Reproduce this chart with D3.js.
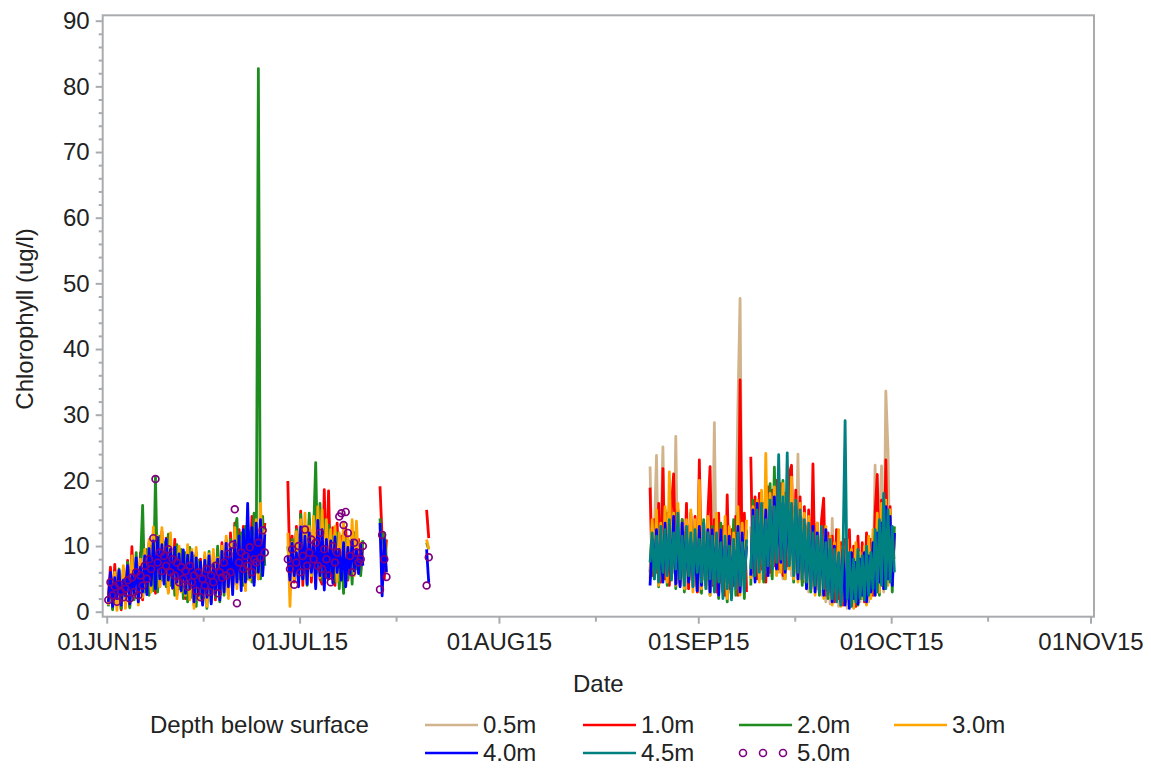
<!DOCTYPE html>
<html>
<head>
<meta charset="utf-8">
<script src="https://cdn.jsdelivr.net/npm/d3@7"></script>
<style>
  body { margin: 0; background: #fff; }
  svg text { font-family: "Liberation Sans", Arial, sans-serif; fill: #222; }
</style>
</head>
<body>
<svg id="chart"></svg>
<script>
// ---- data, one value every 8 hours ----
const depths = ['0.5m', '1.0m', '2.0m', '3.0m', '4.0m', '4.5m', '5.0m'];
const stepHours = 8;
const segStarts = ['2015-06-01T06:00Z', '2015-06-29T04:00Z', '2015-07-13T12:00Z', '2015-07-20T18:00Z', '2015-08-24T12:00Z'];

// 01JUN - 24JUN
const jun_10 = [2.5, 6.8, 0.5, 7.2, 1.5, 5.5, 0.3, 6.5, 1.8,
  7.8, 0.8, 9.9, 2.0, 7.5, 2.5, 9.0, 1.8, 8.8,
  3.2, 10.5, 4.5, 12.0, 2.8, 11.5, 3.8, 12.2, 5.2,
  11.2, 3.0, 10.0, 4.2, 11.0, 2.5, 9.2, 3.8, 8.5,
  2.0, 9.4, 2.8, 8.5, 1.0, 9.0, 2.0, 8.0, 1.5,
  8.2, 1.5, 7.8, 2.5, 8.8, 1.8, 9.5, 2.8, 10.5,
  3.5, 11.0, 2.5, 12.0, 3.8, 13.5, 4.2, 12.5, 5.0,
  13.0, 3.8, 12.0, 5.5, 14.5, 4.5, 13.2, 5.0, 12.0, 6.0, 13.5];
const jun_20 = [0.8, 5.5, 0.3, 6.0, 1.2, 6.5, 0.5, 5.8, 1.5,
  7.5, 0.6, 8.0, 1.8, 9.0, 2.0, 7.2, 16.2, 3.0,
  9.5, 2.5, 10.0, 3.2, 20.5, 3.0, 11.5, 4.8, 10.5,
  3.8, 11.8, 4.0, 9.0, 2.5, 10.2, 3.5, 9.5, 2.0,
  9.0, 1.5, 9.8, 2.2, 8.5, 0.8, 7.8, 2.8, 1.2,
  8.5, 0.5, 9.2, 1.5, 8.0, 2.2, 10.0, 1.5, 9.5,
  2.5, 10.5, 3.0, 11.0, 4.0, 12.5, 14.2, 5.0, 12.0,
  4.0, 13.0, 5.0, 12.2, 4.5, 15.0, 6.0, 82.7, 5.0, 14.5, 7.0];
const jun_30 = [1.0, 5.0, 1.8, 6.0, 0.2, 5.5, 1.2, 7.0, 0.5,
  6.2, 1.5, 8.5, 2.5, 7.0, 1.0, 8.0, 2.2, 9.5,
  3.5, 11.0, 3.0, 12.9, 4.5, 11.5, 3.8, 12.8, 4.5,
  10.5, 2.8, 12.0, 3.5, 9.2, 2.0, 10.0, 3.0, 7.5,
  2.5, 10.2, 1.8, 9.5, 0.5, 9.8, 1.8, 7.2, 2.5,
  9.0, 0.8, 8.8, 1.5, 9.5, 2.8, 8.2, 2.0, 10.0,
  3.0, 11.5, 2.0, 10.5, 4.2, 12.8, 3.5, 11.0, 4.8,
  12.0, 3.2, 13.5, 4.8, 11.5, 5.5, 14.0, 5.0, 16.5, 6.5, 12.5];
const jun_40 = [1.5, 6.0, 0.8, 5.2, 2.0, 6.3, 1.0, 4.8, 2.4,
  7.0, 1.2, 5.5, 2.8, 8.2, 1.5, 6.8, 3.0, 8.5,
  2.6, 9.6, 4.0, 10.8, 3.5, 11.3, 5.0, 10.2, 4.2,
  11.0, 4.8, 9.5, 3.6, 9.8, 4.5, 8.8, 3.2, 9.4,
  2.8, 8.6, 3.5, 9.0, 1.5, 8.2, 2.5, 7.6, 1.0,
  7.8, 2.2, 8.5, 1.2, 7.2, 2.8, 8.0, 1.8, 9.2,
  3.0, 10.4, 3.8, 9.6, 2.6, 10.8, 4.5, 11.5, 3.2,
  12.5, 4.5, 16.5, 5.2, 12.8, 4.0, 13.5, 6.0, 14.0, 5.5, 11.8];
const jun_50 = [1.8, 4.5, 2.5, 3.8, 1.5, 4.2, 3.0, 2.2, 3.5,
  4.8, 2.0, 5.2, 3.0, 6.0, 2.5, 5.5, 4.0, 7.0,
  5.0, 8.0, 6.5, 11.2, 20.2, 7.5, 9.0, 6.2, 8.5,
  7.0, 9.5, 6.0, 8.0, 5.5, 7.5, 4.5, 6.8, 5.0,
  6.2, 3.8, 7.0, 4.5, 5.5, 3.2, 6.0, 2.2, 5.0,
  4.0, 6.5, 3.0, 5.5, 4.5, 7.0, 2.8, 6.0, 5.2,
  7.5, 5.5, 8.8, 6.0, 10.2, 15.6, 1.3, 7.5, 9.0,
  6.5, 8.5, 7.0, 9.8, 6.0, 8.0, 7.5, 10.5, 8.2, 12.4, 9.0];

// 29JUN - 10JUL
const jul_10 = [19.9, 6.0, 11.5, 4.5, 13.0, 5.2, 15.3, 4.0, 12.5, 5.8, 14.0, 4.5,
  13.5, 6.5, 12.0, 5.0, 4.2, 18.6, 5.2, 18.4, 5.5, 12.8, 4.0, 13.5,
  5.2, 11.5, 6.0, 12.8, 4.8, 10.5, 5.5, 12.0, 7.0, 11.0, 6.2, 9.8];
const jul_20 = [10.0, 5.5, 11.0, 6.2, 12.5, 4.5, 14.8, 5.0, 13.0, 4.0, 15.0, 5.5,
  12.0, 22.7, 6.0, 16.5, 4.8, 14.0, 5.5, 13.2, 6.0, 11.5, 4.5, 12.0,
  3.5, 10.5, 2.8, 11.0, 5.0, 10.8, 4.2, 12.0, 6.5, 10.5, 5.5, 10.9];
const jul_30 = [12.0, 0.8, 10.5, 5.0, 12.2, 4.5, 14.0, 6.0, 15.0, 4.8, 13.0, 5.5,
  14.5, 4.0, 16.0, 5.2, 15.5, 4.5, 14.0, 6.0, 12.5, 5.0, 13.0, 4.6,
  12.0, 5.8, 13.5, 4.2, 11.5, 6.2, 14.0, 5.5, 13.8, 6.8, 10.5, 7.2];
const jul_40 = [8.5, 4.8, 10.4, 5.5, 9.0, 3.8, 12.9, 5.0, 11.5, 4.2, 12.0, 6.0,
  10.5, 3.5, 13.9, 5.5, 12.5, 3.3, 11.0, 5.0, 10.8, 4.4, 11.4, 6.0,
  9.5, 4.8, 10.5, 3.8, 9.8, 5.8, 10.9, 6.2, 9.5, 5.8, 10.2, 7.0];
const jul_50 = [8.0, 6.5, 9.5, 4.1, 7.5, 10.0, 6.0, 8.5, 12.5, 7.0, 9.0, 11.0,
  8.0, 10.5, 7.0, 12.0, 6.5, 9.5, 8.0, 5.5, 4.5, 10.0, 7.5, 9.0,
  14.5, 15.0, 13.2, 15.2, 12.0, 8.5, 6.0, 10.5, 9.0, 7.5, 8.0, 10.0];

// 13JUL and 20JUL short records
const jul13_10 = [19.1, 11.2, 5.0, 11.0];
const jul13_20 = [14.2, 9.0, 12.0, 8.0];
const jul13_30 = [12.0, 7.0, 10.5, 6.0];
const jul13_40 = [13.5, 2.4, 11.0, 6.0];
const jul13_50 = [3.4, 11.7, 8.0, 5.3];
const jul20_10 = [15.5, 11.2];
const jul20_20 = [10.5, 9.5];
const jul20_30 = [11.0, 9.5];
const jul20_40 = [9.5, 4.4];
const jul20_50 = [4.0, 8.3];

// 24AUG - 01OCT
const sep_05 = [22.1, 6.0, 12.0, 23.8, 5.5, 11.0, 25.1, 5.0, 12.5, 4.5,
  12.0, 6.0, 26.7, 4.5, 11.5, 5.5, 12.0, 3.5, 13.0, 5.0,
  11.0, 4.0, 12.5, 3.0, 13.0, 5.0, 11.0, 3.5, 12.0, 4.0,
  28.8, 3.0, 11.5, 4.5, 10.0, 2.5, 12.5, 3.0, 11.0, 4.0,
  12.0, 31.5, 47.7, 5.0, 11.0, 3.5, null, 13.0, 5.5, 14.0,
  6.0, 15.0, 5.0, 14.5, 6.5, 15.5, 5.5, 15.0, 7.0, 16.0,
  6.0, 16.5, 5.0, 15.5, 6.5, 16.0, 5.5, 15.0, 6.0, 24.0,
  5.0, 14.0, 4.5, 13.0, 3.0, 12.0, 4.0, 11.5, 3.5, 10.5,
  2.5, 11.0, 1.5, 10.0, 1.2, 14.2, 2.0, 9.0, 0.8, 9.5,
  1.5, 8.5, 0.5, 9.5, 1.0, 8.0, 2.0, 8.5, 1.5, 9.0,
  2.5, 9.0, 1.5, 10.0, 3.0, 22.3, 4.0, 13.0, 22.2, 3.0,
  33.6, 24.6, 5.0, 12.0, 8.0];
const sep_10 = [18.9, 5.5, 14.0, 6.0, 16.5, 4.5, 21.8, 5.0, 15.0, 4.0,
  16.0, 21.0, 5.5, 15.5, 4.0, 14.0, 5.0, 16.5, 3.5, 15.0,
  4.5, 14.5, 3.0, 23.1, 5.0, 13.5, 4.0, 15.0, 22.1, 4.0,
  14.0, 3.0, 15.0, 4.5, 13.0, 2.5, 17.8, 3.5, 12.5, 4.0,
  14.5, 2.5, 35.3, 5.5, 15.0, 3.0, null, 23.6, 6.0, 17.5,
  5.0, 18.0, 6.5, 16.5, 4.5, 19.0, 6.0, 18.5, 7.0, 20.0,
  6.5, 19.5, 5.5, 18.0, 7.0, 21.0, 22.3, 6.0, 18.5, 5.5,
  17.5, 4.5, 16.0, 5.0, 15.5, 3.5, 22.5, 4.0, 13.5, 3.0,
  14.0, 17.3, 2.5, 12.0, 3.0, 11.5, 1.5, 12.5, 2.0, 10.5,
  1.0, 11.0, 2.5, 12.5, 1.5, 10.0, 0.8, 11.5, 2.0, 10.5,
  1.5, 12.0, 3.0, 11.0, 2.5, 15.0, 20.9, 4.0, 17.0, 3.5,
  23.1, 5.0, 16.0, 4.5, 12.0];
const sep_20 = [6.0, 13.5, 5.0, 14.5, 3.8, 12.0, 5.5, 15.5, 4.0, 13.0,
  6.0, 15.0, 3.5, 13.5, 5.0, 14.0, 3.0, 12.5, 6.5, 14.5,
  4.0, 13.0, 5.5, 12.0, 2.8, 14.0, 4.5, 11.5, 2.5, 13.0,
  3.5, 12.5, 2.0, 13.5, 4.0, 11.0, 1.5, 12.0, 3.0, 14.0,
  2.5, 15.0, 4.5, 11.5, 2.0, 12.5, null, 4.0, 17.0, 5.0,
  16.0, 5.5, 18.0, 4.5, 15.0, 6.0, 19.5, 5.0, 22.0, 7.0,
  18.5, 6.5, 20.0, 5.0, 18.0, 7.5, 17.0, 4.5, 16.5, 6.0,
  15.0, 4.0, 14.5, 5.0, 13.0, 3.0, 12.5, 4.5, 11.0, 2.5,
  12.0, 3.0, 11.5, 2.0, 10.5, 1.5, 9.0, 2.5, 10.0, 1.0,
  8.5, 1.5, 9.5, 0.8, 8.0, 2.0, 9.0, 1.0, 7.5, 2.0,
  8.5, 1.2, 10.0, 2.5, 11.0, 3.0, 13.5, 2.5, 15.5, 4.0,
  14.0, 4.5, 15.0, 3.0, 13.0];
const sep_30 = [5.0, 14.0, 6.0, 15.5, 4.0, 13.5, 5.0, 16.0, 4.5, 21.3,
  5.5, 15.0, 4.0, 16.5, 6.0, 13.5, 3.5, 14.0, 5.0, 15.5,
  3.0, 14.0, 4.5, 20.0, 3.5, 13.0, 5.0, 14.5, 2.5, 12.5,
  4.0, 15.0, 2.5, 12.5, 3.5, 14.5, 2.0, 13.0, 3.0, 12.0,
  3.5, 16.0, 2.5, 13.5, 4.0, 14.0, null, 5.0, 16.0, 6.0,
  17.0, 4.5, 18.5, 5.5, 24.1, 6.0, 18.0, 7.0, 19.0, 5.5,
  17.5, 6.0, 19.5, 5.0, 18.0, 6.5, 20.5, 5.0, 17.0, 4.5,
  16.5, 5.0, 15.0, 3.5, 14.5, 4.0, 12.5, 2.5, 13.5, 3.5,
  12.0, 2.0, 13.0, 2.5, 11.5, 1.0, 10.5, 2.0, 12.5, 0.8,
  10.0, 1.5, 11.0, 1.0, 9.5, 0.5, 10.5, 1.5, 9.0, 2.0,
  10.0, 1.0, 11.5, 2.0, 12.5, 2.5, 15.0, 3.0, 16.5, 3.5,
  17.0, 4.0, 15.5, 5.0, 11.0];
const sep_40 = [4.0, 11.0, 6.5, 12.5, 5.0, 10.5, 4.5, 13.5, 6.0, 12.0,
  5.5, 14.5, 4.2, 12.5, 3.8, 13.5, 5.0, 12.0, 4.5, 11.0,
  5.5, 10.5, 3.2, 13.0, 4.0, 11.0, 5.5, 12.5, 3.0, 12.5,
  4.5, 11.0, 2.5, 12.5, 3.0, 10.0, 4.5, 11.5, 2.5, 9.5,
  4.0, 13.0, 3.0, 12.0, 5.0, 10.0, null, 5.5, 15.5, 4.5,
  16.5, 7.0, 14.5, 6.0, 15.5, 5.5, 16.0, 8.0, 17.5, 6.5,
  18.0, 7.5, 16.5, 6.0, 17.5, 8.0, 15.0, 6.5, 16.0, 5.0,
  14.5, 6.0, 13.0, 3.5, 12.5, 4.5, 13.0, 3.0, 12.0, 4.0,
  11.5, 2.5, 12.5, 3.0, 9.5, 1.5, 10.0, 2.0, 8.5, 1.5,
  9.5, 1.0, 8.0, 0.5, 9.0, 2.0, 7.5, 1.2, 8.0, 2.5,
  9.0, 1.5, 8.5, 3.0, 10.5, 2.5, 12.0, 4.5, 13.5, 3.5,
  16.0, 5.0, 14.5, 4.0, 12.0];
const sep_45 = [7.5, 12.0, 5.0, 11.5, 4.5, 13.0, 6.0, 12.5, 5.5, 14.0,
  4.8, 12.0, 6.5, 15.0, 5.0, 11.5, 4.0, 13.0, 5.5, 12.0,
  3.8, 12.5, 6.0, 11.0, 4.5, 13.5, 3.5, 12.0, 5.0, 11.5,
  3.0, 12.0, 4.5, 10.5, 2.0, 11.5, 3.5, 10.0, 1.8, 11.0,
  3.5, 12.0, 4.0, 10.5, 3.0, 11.0, null, 6.5, 14.5, 5.5,
  15.5, 6.0, 16.5, 5.0, 14.0, 7.0, 17.0, 6.5, 16.0, 7.5,
  23.9, 8.0, 17.5, 6.5, 24.2, 7.0, 16.5, 5.5, 17.0, 6.0,
  15.5, 5.0, 14.0, 4.5, 13.5, 3.5, 12.0, 4.0, 11.5, 3.0,
  13.0, 3.5, 10.5, 2.5, 11.0, 2.0, 9.5, 1.5, 9.0, 1.0,
  8.5, 29.1, 2.0, 9.0, 0.8, 8.0, 1.5, 9.5, 2.0, 8.5,
  1.8, 10.0, 2.5, 9.0, 3.5, 12.5, 3.0, 14.0, 4.0, 18.0,
  3.5, 15.5, 4.5, 13.0, 6.0];

const yTicks = [0, 10, 20, 30, 40, 50, 60, 70, 80, 90];
const xTickDates = ['2015-06-01', '2015-07-01', '2015-08-01', '2015-09-01', '2015-10-01', '2015-11-01'];
const xMinorDates = ['2015-06-16', '2015-07-16', '2015-08-16', '2015-09-16', '2015-10-16'];

// which arrays belong to which record period
const segments = [
  {start: segStarts[0], values: {'1.0m': jun_10, '2.0m': jun_20, '3.0m': jun_30, '4.0m': jun_40, '5.0m': jun_50}},
  {start: segStarts[1], values: {'1.0m': jul_10, '2.0m': jul_20, '3.0m': jul_30, '4.0m': jul_40, '5.0m': jul_50}},
  {start: segStarts[2], values: {'1.0m': jul13_10, '2.0m': jul13_20, '3.0m': jul13_30, '4.0m': jul13_40, '5.0m': jul13_50}},
  {start: segStarts[3], values: {'1.0m': jul20_10, '2.0m': jul20_20, '3.0m': jul20_30, '4.0m': jul20_40, '5.0m': jul20_50}},
  {start: segStarts[4], values: {'0.5m': sep_05, '1.0m': sep_10, '2.0m': sep_20, '3.0m': sep_30, '4.0m': sep_40, '4.5m': sep_45}}
];

// ---- layout and styles ----
const config = {
  width: 1151,
  height: 768,
  plot: {left: 102.7, right: 1094, top: 15.3, bottom: 616.7},
  colors: {'0.5m': '#D2B48C', '1.0m': '#FF0000', '2.0m': '#1E8C1E', '3.0m': '#FFA500',
           '4.0m': '#0000FF', '4.5m': '#008080', '5.0m': '#800080'},
  frameColor: '#A9ACAF',
  fontSize: 24,
  legendFontSize: 24,
  lineWidth: 2.8
};

const svg = d3.select('#chart')
    .attr('width', config.width)
    .attr('height', config.height);

const p = config.plot;
const x = d3.scaleUtc()
    .domain([new Date('2015-05-31T09:00Z'), new Date('2015-11-01T13:00Z')])
    .range([p.left, p.right]);
const y = d3.scaleLinear()
    .domain([-0.76, 90.82])
    .range([p.bottom, p.top]);

// turn each segment into {date, v} rows per depth
const series = depths.map(depth => ({
  depth,
  parts: segments.filter(s => s.values[depth]).map(s => {
    const t0 = new Date(s.start).getTime();
    return s.values[depth].map((v, i) => ({date: new Date(t0 + i * stepHours * 3600e3), v}));
  })
}));

// ---- data marks ----
const line = d3.line()
    .defined(d => d.v != null)
    .x(d => x(d.date))
    .y(d => y(d.v));

const marks = svg.append('g');
series.filter(s => s.depth !== '5.0m').forEach(s => {
  marks.selectAll(null)
    .data(s.parts)
    .join('path')
      .attr('d', line)
      .attr('fill', 'none')
      .attr('stroke', config.colors[s.depth])
      .attr('stroke-width', config.lineWidth)
      .attr('stroke-linejoin', 'round');
});

// 5.0m is drawn as open circles only
const circleData = series.find(s => s.depth === '5.0m').parts.flat();
marks.selectAll('.m50')
  .data(circleData)
  .join('circle')
    .attr('class', 'm50')
    .attr('cx', d => x(d.date))
    .attr('cy', d => y(d.v))
    .attr('r', 3.4)
    .attr('fill', 'none')
    .attr('stroke', config.colors['5.0m'])
    .attr('stroke-width', 1.7);

// ---- frame and axes ----
svg.append('rect')
    .attr('x', p.left).attr('y', p.top)
    .attr('width', p.right - p.left).attr('height', p.bottom - p.top)
    .attr('fill', 'none')
    .attr('stroke', config.frameColor)
    .attr('stroke-width', 2);

const yAxis = svg.append('g')
    .attr('transform', `translate(${p.left},0)`)
    .call(d3.axisLeft(y).tickValues(yTicks).tickSize(7).tickPadding(6));
const yMinor = svg.append('g')
    .attr('transform', `translate(${p.left},0)`)
    .call(d3.axisLeft(y).tickValues(d3.range(0, 91, 2).filter(v => v % 10)).tickSize(4).tickFormat(''));

const fmt = d3.utcFormat('%d%b%y');
const xAxis = svg.append('g')
    .attr('transform', `translate(0,${p.bottom})`)
    .call(d3.axisBottom(x).tickValues(xTickDates.map(d => new Date(d + 'T00:00Z')))
      .tickSize(7).tickPadding(9).tickFormat(d => fmt(d).toUpperCase()));
const xMinor = svg.append('g')
    .attr('transform', `translate(0,${p.bottom})`)
    .call(d3.axisBottom(x).tickValues(xMinorDates.map(d => new Date(d + 'T00:00Z'))).tickSize(5).tickFormat(''));

[yAxis, yMinor, xAxis, xMinor].forEach(g => {
  g.select('.domain').remove();
  g.selectAll('line').attr('stroke', config.frameColor).attr('stroke-width', 2);
  g.selectAll('text')
    .attr('font-family', '"Liberation Sans", Arial, sans-serif')
    .attr('font-size', config.fontSize)
    .attr('fill', '#222');
});
yAxis.attr('font-size', null).attr('font-family', null);
xAxis.attr('font-size', null).attr('font-family', null);

// axis titles
svg.append('text')
    .attr('x', (p.left + p.right) / 2)
    .attr('y', 692)
    .attr('text-anchor', 'middle')
    .attr('font-size', config.fontSize)
    .text('Date');
svg.append('text')
    .attr('transform', `translate(33,${(p.top + p.bottom) / 2 + 3}) rotate(-90)`)
    .attr('text-anchor', 'middle')
    .attr('font-size', config.fontSize)
    .text('Chlorophyll (ug/l)');

// ---- legend ----
const legend = svg.append('g').attr('font-size', config.legendFontSize);
legend.append('text').attr('x', 150).attr('y', 733).text('Depth below surface');

const legendCols = [425, 583, 739, 894];
const legendRows = [733, 761];
depths.forEach((depth, i) => {
  const lx = legendCols[i % 4];
  const ly = legendRows[Math.floor(i / 4)];
  const item = legend.append('g');
  if (depth === '5.0m') {
    item.selectAll('circle')
      .data([4, 24, 44])
      .join('circle')
        .attr('cx', d => lx + d)
        .attr('cy', ly - 8)
        .attr('r', 3.5)
        .attr('fill', 'none')
        .attr('stroke', config.colors[depth])
        .attr('stroke-width', 1.6);
  } else {
    item.append('line')
      .attr('x1', lx).attr('x2', lx + 53)
      .attr('y1', ly - 8).attr('y2', ly - 8)
      .attr('stroke', config.colors[depth])
      .attr('stroke-width', 2.5);
  }
  item.append('text')
    .attr('x', lx + 58)
    .attr('y', ly)
    .text(depth);
});
</script>
</body>
</html>
